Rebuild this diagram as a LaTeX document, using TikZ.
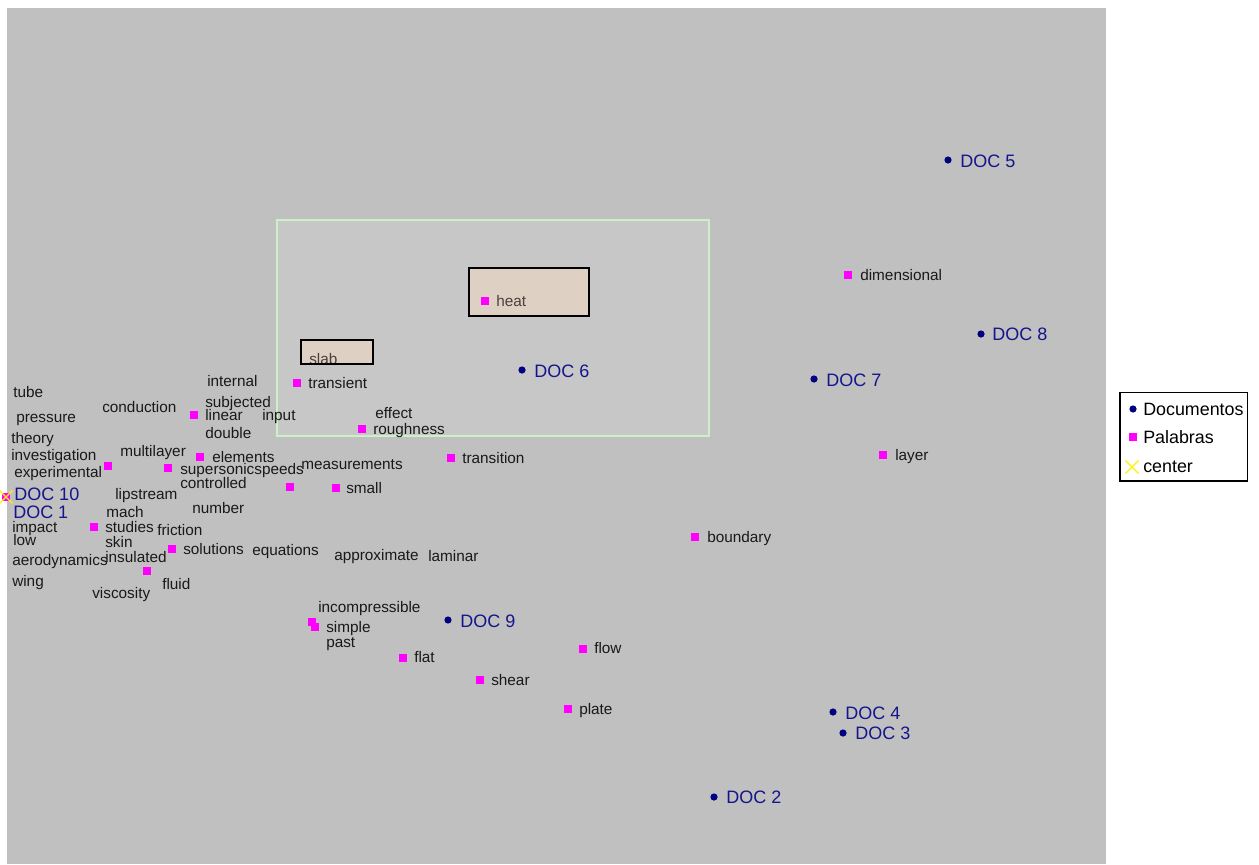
\documentclass[tikz,border=0pt]{standalone}
\usepackage{fontspec}
\setmainfont{Liberation Sans}
\usetikzlibrary{shapes.misc}
\definecolor{bggray}{RGB}{192,192,192}
\definecolor{selfill}{RGB}{199,199,199}
\definecolor{selborder}{RGB}{204,240,200}
\definecolor{boxfill}{RGB}{222,208,194}
\definecolor{mag}{RGB}{255,0,255}
\definecolor{navy}{RGB}{0,0,128}
\definecolor{navytext}{RGB}{20,20,140}
\definecolor{wordtext}{RGB}{25,25,25}
\definecolor{dimtext}{RGB}{75,65,60}
\begin{document}
\begin{tikzpicture}[x=0.75pt,y=-0.75pt,
  word/.style={anchor=mid west,inner sep=0pt,yshift=-1.5pt,font=\fontsize{11.5}{12}\selectfont,text=wordtext},
  dimword/.style={word,text=dimtext},
  doclab/.style={anchor=mid west,inner sep=0pt,yshift=-2.2pt,font=\fontsize{13.5}{14}\selectfont,text=navytext},
  legtext/.style={anchor=mid west,inner sep=0pt,yshift=-1.5pt,font=\fontsize{13.4}{14}\selectfont,text=black},
  sq/.style={rectangle,fill=mag,draw=none,minimum size=5.6pt,inner sep=0pt},
  dot/.style={circle,fill=navy,draw=none,minimum size=5.4pt,inner sep=0pt},
  ctr/.style={cross out,draw=yellow,line width=0.9pt,minimum size=9pt,inner sep=0pt},
  hibox/.style={fill=boxfill,draw=black,line width=1.5pt}
]
\useasboundingbox (0,0) rectangle (1259,864);
\fill[white] (0,0) rectangle (1259,864);
% plot area
\fill[bggray] (7,8) rectangle (1106,864);
% selection area
\filldraw[fill=selfill,draw=selborder,line width=1.5pt] (276.5,219.5) rectangle (709,436);
\filldraw[hibox] (468.5,267.5) rectangle (589,315.5);
\begin{scope}
\clip (300.5,339.5) rectangle (373,363.5);
\filldraw[hibox] (300.5,339.5) rectangle (373,363.5);
\node[dimword] (slab) at (309,358.5) {slab};
\end{scope}
\draw[black,line width=1.5pt] (300.5,339.5) rectangle (373,363.5);

% documents
\node[dot] (d5) at (948,160) {};  \node[doclab] (doc5) at (960,161) {DOC 5};
\node[dot] (d8) at (981,334) {};  \node[doclab] (doc8) at (992,334) {DOC 8};
\node[dot] (d7) at (814,379) {};  \node[doclab] (doc7) at (826,380) {DOC 7};
\node[dot] (d6) at (522,370) {};  \node[doclab] (doc6) at (534,371) {DOC 6};
\node[dot] (d9) at (448,620) {};  \node[doclab] (doc9) at (460,621) {DOC 9};
\node[dot] (d4) at (833,712) {};  \node[doclab] (doc4) at (845,713) {DOC 4};
\node[dot] (d3) at (843,733) {};  \node[doclab] (doc3) at (855,733) {DOC 3};
\node[dot] (d2) at (714,797) {};  \node[doclab] (doc2) at (726,797) {DOC 2};
\node[dot] (d10) at (6,497) {};
\node[doclab] (doc10) at (14,494) {DOC 10};
\node[doclab] (doc1) at (13,512) {DOC 1};
\node[sq] (m10) at (6,497) {};
\node[ctr] (center) at (6,497) {};

% words with markers
\node[sq] (mdim) at (848,275) {};   \node[word] (dimensional) at (860,275) {dimensional};
\node[sq] (mlay) at (883,455) {};   \node[word] (layer) at (895,455) {layer};
\node[sq] (mbou) at (695,537) {};   \node[word] (boundary) at (707,537) {boundary};
\node[sq] (mhea) at (485,301) {};   \node[dimword] (heat) at (496,301) {heat};
\node[sq] (mtra) at (297,383) {};   \node[word] (transient) at (308,383) {transient};
\node[sq] (mrou) at (362,429) {};   \node[word] (roughness) at (373,429) {roughness};
\node[sq] (mtrn) at (451,458) {};   \node[word] (transition) at (462,458) {transition};
\node[sq] (msma) at (336,488) {};   \node[word] (small) at (346,488) {small};
\node[sq] (mxx1) at (290,487) {};
\node[sq] (msol) at (172,549) {};   \node[word] (solutions) at (183,549) {solutions};
\node[sq] (msup) at (168,468) {};   \node[word] (supersonic) at (180,468.5) {supersonicspeeds};
\node[sq] (mele) at (200,457) {};   \node[word] (elements) at (212,456.5) {elements};
\node[sq] (mxx2) at (108,466) {};
\node[sq] (mlin) at (194,415) {};   \node[word] (linear) at (205,415) {linear};
\node[sq] (mstu) at (94,527) {};    \node[word] (studies) at (105,527) {studies};
\node[sq] (mflu) at (147,571) {};
\node[sq] (msi2) at (312,622) {};
\node[sq] (msim) at (315,627) {};   \node[word] (simple) at (326,627) {simple};
\node[sq] (mfla) at (403,658) {};   \node[word] (flat) at (414,657) {flat};
\node[sq] (mflo) at (583,649) {};   \node[word] (flow) at (594,648) {flow};
\node[sq] (mshe) at (480,680) {};   \node[word] (shear) at (491,680) {shear};
\node[sq] (mpla) at (568,709) {};   \node[word] (plate) at (579,709) {plate};

% words without own markers
\node[word] (effect) at (375,413) {effect};
\node[word] (input) at (262,415) {input};
\node[word] (measurements) at (301,464) {measurements};
\node[word] (approximate) at (334,555) {approximate};
\node[word] (laminar) at (428,556) {laminar};
\node[word] (equations) at (252,550) {equations};
\node[word] (number) at (192,508) {number};
\node[word] (friction) at (157,530) {friction};
\node[word] (controlled) at (180,483) {controlled};
\node[word] (multilayer) at (120,451) {multilayer};
\node[word] (subjected) at (205,402) {subjected};
\node[word] (internal) at (207,381) {internal};
\node[word] (double) at (205,433) {double};
\node[word] (conduction) at (102,407) {conduction};
\node[word] (tube) at (13,392) {tube};
\node[word] (pressure) at (16,417) {pressure};
\node[word] (theory) at (11,438) {theory};
\node[word] (investigation) at (11,455) {investigation};
\node[word] (experimental) at (14,472) {experimental};
\node[word] (lipstream) at (115,494) {lipstream};
\node[word] (mach) at (106,512) {mach};
\node[word] (impact) at (12,527) {impact};
\node[word] (low) at (13,540) {low};
\node[word] (skin) at (105,542) {skin};
\node[word] (aerodynamics) at (12,560) {aerodynamics};
\node[word] (insulated) at (105,557) {insulated};
\node[word] (fluid) at (162,584) {fluid};
\node[word] (viscosity) at (92,593) {viscosity};
\node[word] (wing) at (12,581) {wing};
\node[word] (incompressible) at (318,607) {incompressible};
\node[word] (past) at (326,642) {past};

% legend
\filldraw[fill=white,draw=black,line width=0.8pt] (1120,392.5) rectangle (1247.5,481);
\node[dot] (ldoc) at (1133,409) {};   \node[legtext] (tdoc) at (1143,410) {Documentos};
\node[sq] (lpal) at (1133,437) {};    \node[legtext] (tpal) at (1143,438) {Palabras};
\node[ctr] (lcen) at (1132,467) {};   \node[legtext] (tcen) at (1143,467) {center};
\end{tikzpicture}
\end{document}
